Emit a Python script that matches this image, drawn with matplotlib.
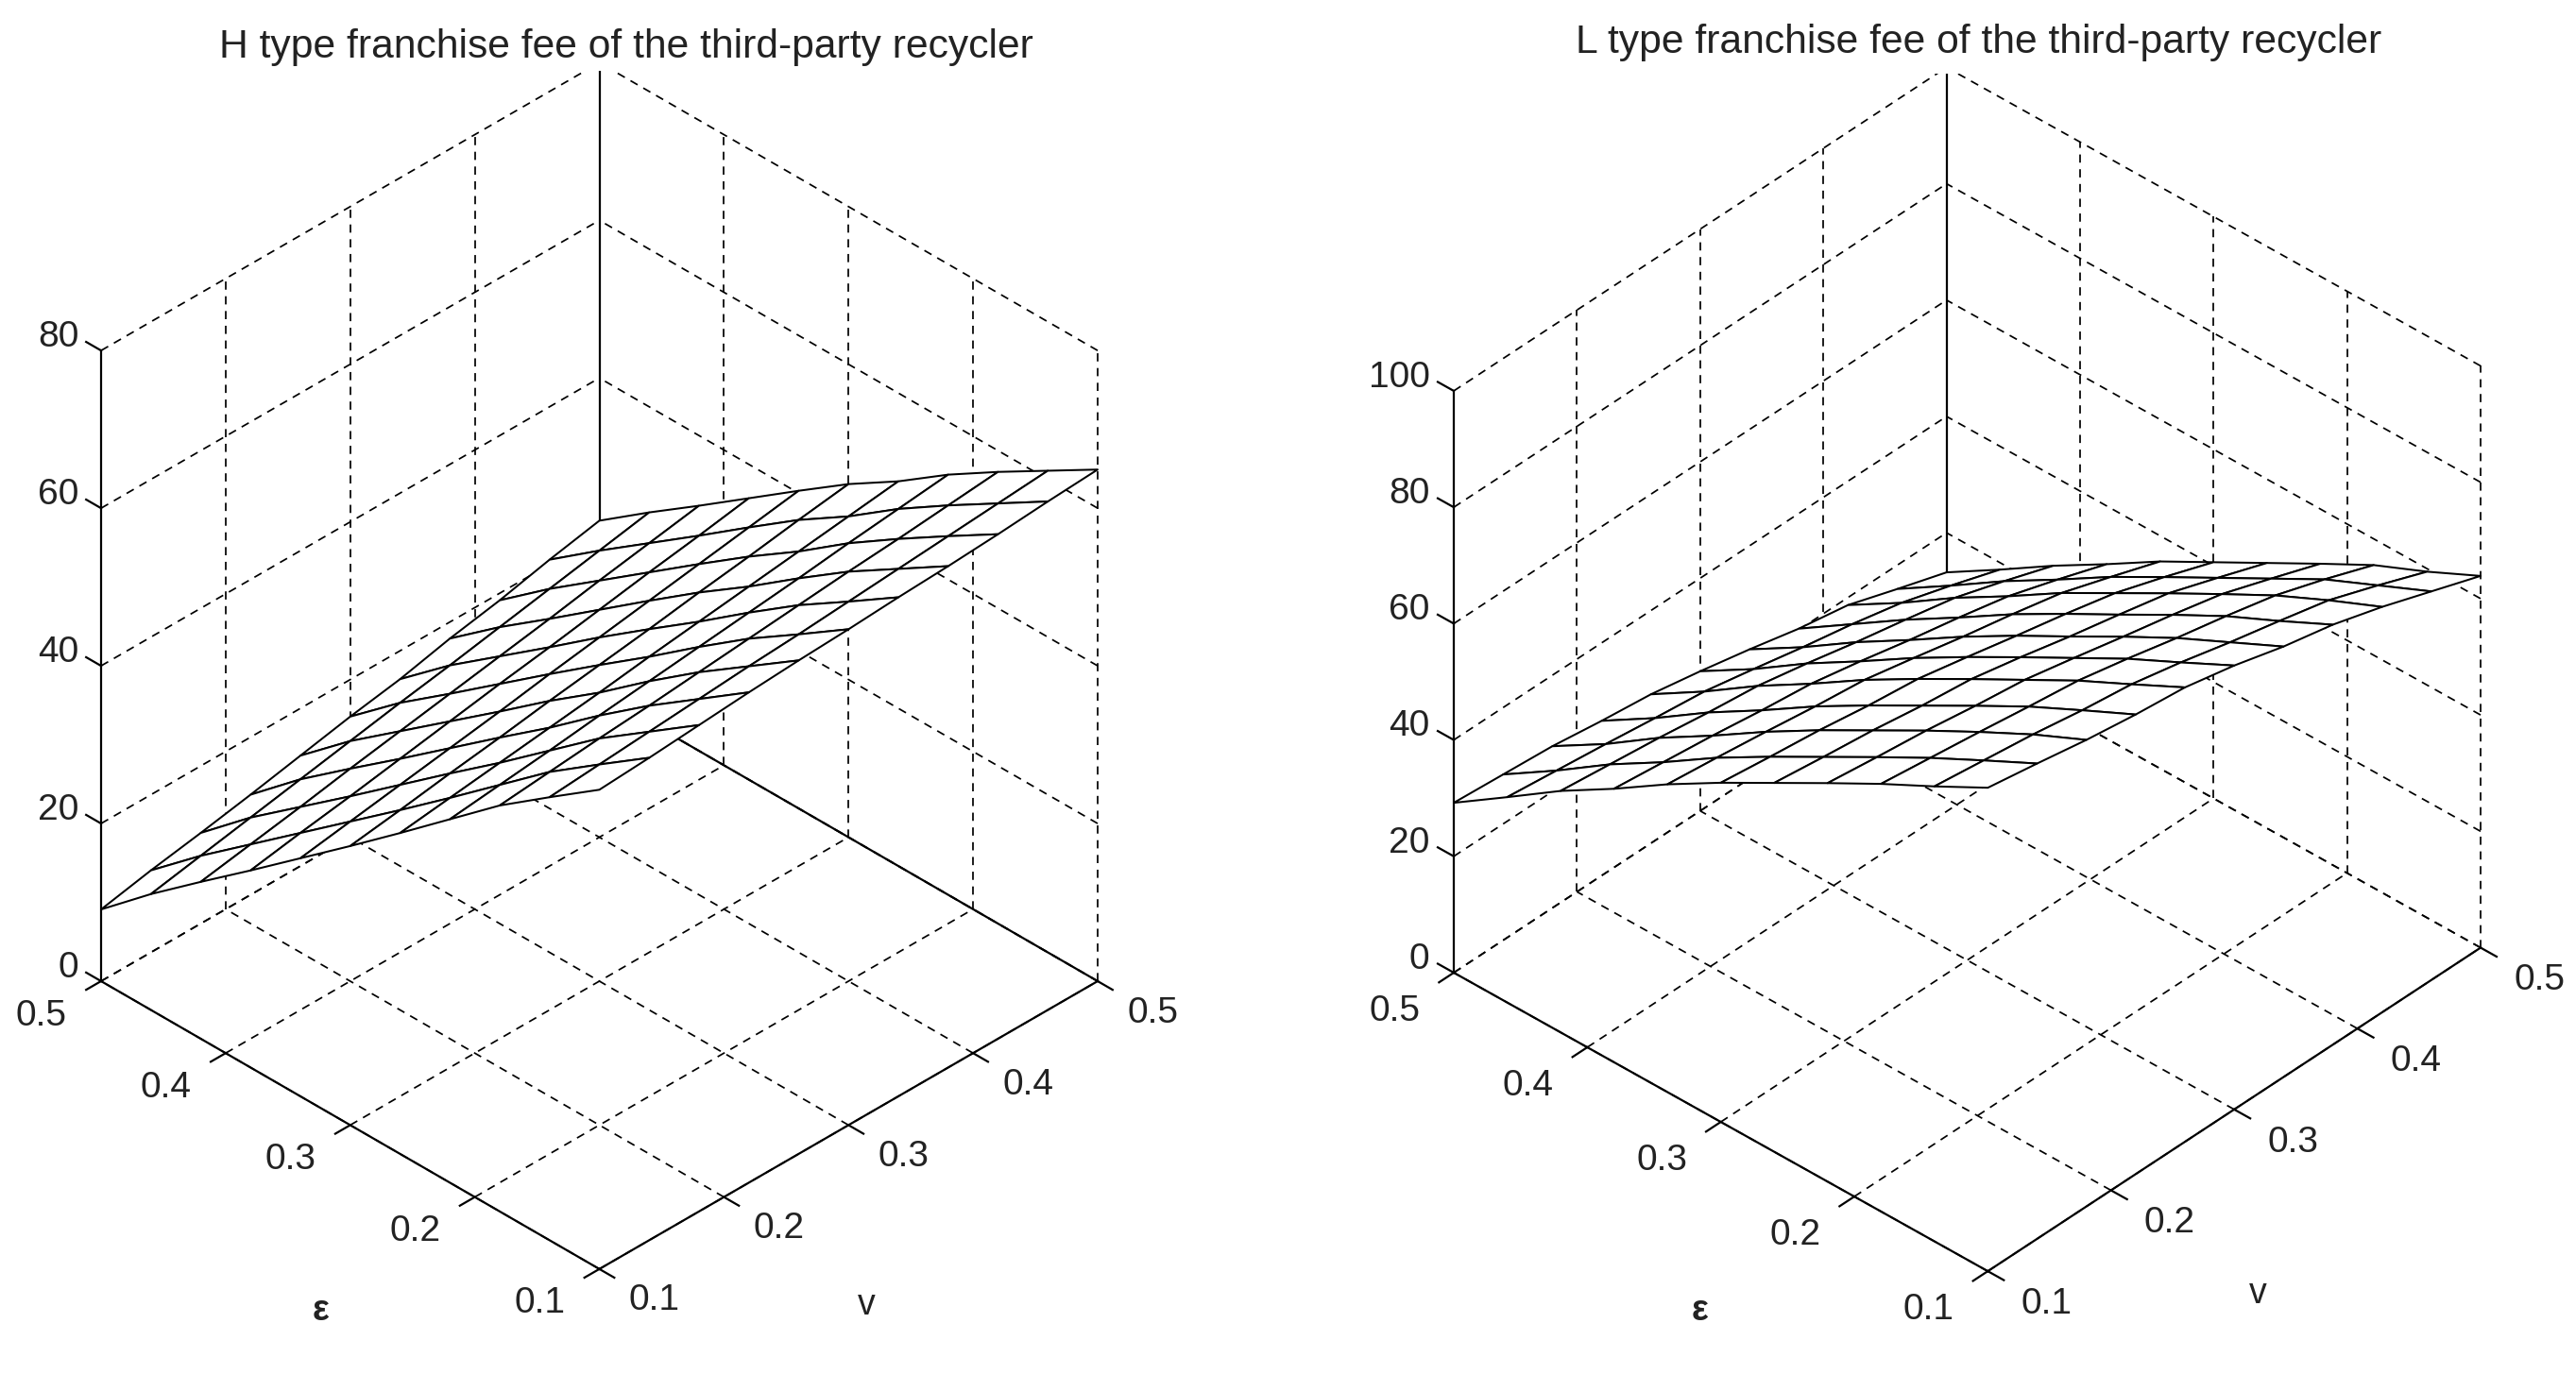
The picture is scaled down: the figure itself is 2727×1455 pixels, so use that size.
import numpy as np
import matplotlib
matplotlib.use('Agg')
import matplotlib.pyplot as plt
from mpl_toolkits.mplot3d import proj3d

plt.rcParams['font.family'] = ['Liberation Sans', 'DejaVu Sans']

v_mesh = [0.10, 0.14, 0.18, 0.22, 0.26, 0.30, 0.34, 0.38, 0.42, 0.46, 0.50]
eps_mesh = [0.10, 0.14, 0.18, 0.22, 0.26, 0.30, 0.34, 0.38, 0.42, 0.46, 0.50]
axis_ticks = [0.1, 0.2, 0.3, 0.4, 0.5]

# rows: eps, columns: v
h_fee = [
    [60.8, 61.2, 61.7, 62.2, 62.6, 62.9, 63.3, 63.6, 64.0, 64.5, 64.9],
    [56.2, 56.7, 57.2, 57.7, 58.2, 58.6, 59.1, 59.6, 60.1, 60.6, 61.1],
    [51.5, 52.1, 52.7, 53.2, 53.8, 54.4, 55.0, 55.6, 56.1, 56.7, 57.3],
    [46.1, 46.8, 47.5, 48.3, 49.0, 49.7, 50.4, 51.1, 51.9, 52.6, 53.3],
    [40.7, 41.5, 42.3, 43.1, 43.9, 44.8, 45.6, 46.4, 47.2, 48.0, 48.8],
    [35.4, 36.3, 37.3, 38.2, 39.2, 40.1, 41.0, 42.0, 42.9, 43.9, 44.8],
    [30.2, 31.2, 32.2, 33.2, 34.2, 35.3, 36.3, 37.3, 38.3, 39.3, 40.3],
    [25.0, 26.1, 27.1, 28.2, 29.3, 30.4, 31.4, 32.5, 33.6, 34.6, 35.7],
    [19.9, 21.0, 22.1, 23.3, 24.4, 25.5, 26.6, 27.7, 28.9, 30.0, 31.1],
    [14.7, 15.9, 17.1, 18.3, 19.5, 20.7, 21.8, 23.0, 24.2, 25.4, 26.6],
    [9.1, 10.4, 11.5, 12.7, 14.0, 15.3, 16.4, 17.9, 19.1, 20.6, 21.9],
]
l_fee = [
    [83.1, 81.7, 80.2, 79.0, 78.1, 76.3, 74.0, 72.2, 69.7, 66.8, 63.9],
    [78.2, 77.1, 76.0, 74.6, 73.5, 71.7, 69.6, 67.7, 65.7, 62.7, 59.5],
    [73.5, 72.4, 71.3, 70.1, 69.0, 67.2, 65.2, 63.4, 61.4, 58.6, 55.5],
    [68.5, 67.4, 66.4, 65.1, 64.0, 62.2, 60.3, 58.5, 56.5, 53.6, 50.6],
    [63.4, 62.3, 61.3, 60.0, 59.0, 57.2, 55.2, 53.4, 51.5, 48.6, 45.6],
    [58.3, 57.2, 56.2, 54.9, 53.9, 52.1, 50.2, 48.4, 46.4, 43.6, 40.6],
    [52.9, 51.9, 50.8, 49.6, 48.6, 46.8, 44.9, 43.2, 41.3, 38.5, 35.6],
    [47.0, 46.0, 45.0, 43.8, 42.8, 41.1, 39.2, 37.5, 35.6, 32.9, 30.0],
    [41.5, 40.5, 39.5, 38.3, 37.3, 35.6, 33.7, 32.0, 30.2, 27.5, 24.6],
    [35.3, 34.3, 33.3, 32.2, 31.2, 29.5, 27.7, 26.1, 24.2, 21.6, 18.8],
    [29.2, 28.5, 27.8, 26.6, 25.6, 24.0, 22.2, 20.2, 18.7, 15.9, 13.2],
]
h_zticks = [0, 20, 40, 60, 80]
l_zticks = [0, 20, 40, 60, 80, 100]

W, H = 2727, 1455
DASH = (0, (5, 4))
INK = '#000000'
TXT = '#222222'


def line(ax, xs, ys, zs, dashed=False, z=1):
    ax.plot(xs, ys, zs, color=INK, lw=1.25 if dashed else 1.6,
            ls=DASH if dashed else '-', zorder=z)


def label(ax, x, y, z, s, ha='center'):
    # plain 2D text at the projected spot of the 3D point
    a, b, _ = proj3d.proj_transform(x, y, z, ax.get_proj())
    ax.text2D(a, b, s, transform=ax.transData, ha=ha, va='center',
              fontsize=28, color=TXT, zorder=4)


def draw_panel(ax, fee, zticks, elev, azim, aspect, left_px, right_x, solid_back_floor):
    zmax = zticks[-1]
    ax.set_proj_type('ortho')
    ax.view_init(elev=elev, azim=azim)
    ax.set_box_aspect(aspect)
    ax.set_xlim(0.1, 0.5)
    ax.set_ylim(0.1, 0.5)
    ax.set_zlim(0, zmax)
    ax.set_axis_off()

    for t in axis_ticks:
        line(ax, [t, t], [0.1, 0.5], [0, 0], True)
        line(ax, [0.1, 0.5], [t, t], [0, 0], True)
        line(ax, [t, t], [0.5, 0.5], [0, zmax], True)
        line(ax, [0.5, 0.5], [t, t], [0, zmax], True)
    for z in zticks:
        line(ax, [0.1, 0.5], [0.5, 0.5], [z, z], True)
        line(ax, [0.5, 0.5], [0.1, 0.5], [z, z], True)

    line(ax, [0.5, 0.5], [0.5, 0.5], [0, zmax])
    if solid_back_floor:
        line(ax, [0.5, 0.5], [0.1, 0.5], [0, 0])

    V, E = np.meshgrid(v_mesh, eps_mesh)
    ax.plot_surface(V, E, np.array(fee), rcount=11, ccount=11, color='white',
                    edgecolor=INK, linewidth=1.45, shade=False, zorder=2)

    line(ax, [0.1, 0.1], [0.1, 0.5], [0, 0], z=3)
    line(ax, [0.1, 0.5], [0.1, 0.1], [0, 0], z=3)
    line(ax, [0.1, 0.1], [0.5, 0.5], [0, zmax], z=3)

    for t in axis_ticks:
        line(ax, [0.1, 0.088], [t, t], [0, 0], z=3)
        line(ax, [t, t], [0.1, 0.088], [0, 0], z=3)
        label(ax, 0.052, t, 0, f'{t:.1f}')
        label(ax, t, 0.056, 0, f'{t:.1f}')
    for z in zticks:
        line(ax, [0.1, 0.1], [0.5, 0.512], [z, z], z=3)
        label(ax, 0.1, 0.518, z, str(z), ha='right')

    # fit the box onto the pixel spots of the floor corners
    def px(x, y, z):
        a, b, _ = proj3d.proj_transform(x, y, z, ax.get_proj())
        return ax.transData.transform((a, b))
    side, cx, cy = 1000, left_px[0] + 500, H / 2
    ax.set_position([(cx - side / 2) / W, (cy - side / 2) / H, side / W, side / H])
    ax.apply_aspect()
    p_left, p_right = px(0.1, 0.5, 0), px(0.5, 0.1, 0)
    scale = (right_x - left_px[0]) / (p_right[0] - p_left[0])
    side = side * scale
    cx = left_px[0] - (p_left[0] - cx) * scale
    cy = (H - left_px[1]) - (p_left[1] - cy) * scale
    ax.set_position([(cx - side / 2) / W, (cy - side / 2) / H, side / W, side / H])


fig = plt.figure(figsize=(W / 100, H / 100), dpi=100, facecolor='white')
ax1 = fig.add_subplot(121, projection='3d', computed_zorder=False)
ax2 = fig.add_subplot(122, projection='3d', computed_zorder=False)

draw_panel(ax1, h_fee, h_zticks, 35.3, -135, (428.5, 428.5, 470), (107, 1039), 1162, True)
draw_panel(ax2, l_fee, l_zticks, 37.3, -137.3, (442, 442, 445), (1539, 1030), 2626, False)

fig.text(663 / W, 1 - 50 / H, 'H type franchise fee of the third-party recycler',
         ha='center', va='center', fontsize=30.7, color=TXT)
fig.text(2095 / W, 1 - 45 / H, 'L type franchise fee of the third-party recycler',
         ha='center', va='center', fontsize=30.7, color=TXT)
for x, y, s in [(340, 1388, 'ε'), (917, 1382, 'v'), (1800, 1388, 'ε'), (2390, 1370, 'v')]:
    fig.text(x / W, 1 - y / H, s, ha='center', va='center', fontsize=27, color=TXT,
             fontweight='bold' if s == 'ε' else 'normal')

fig.savefig('out.png', dpi=100)
